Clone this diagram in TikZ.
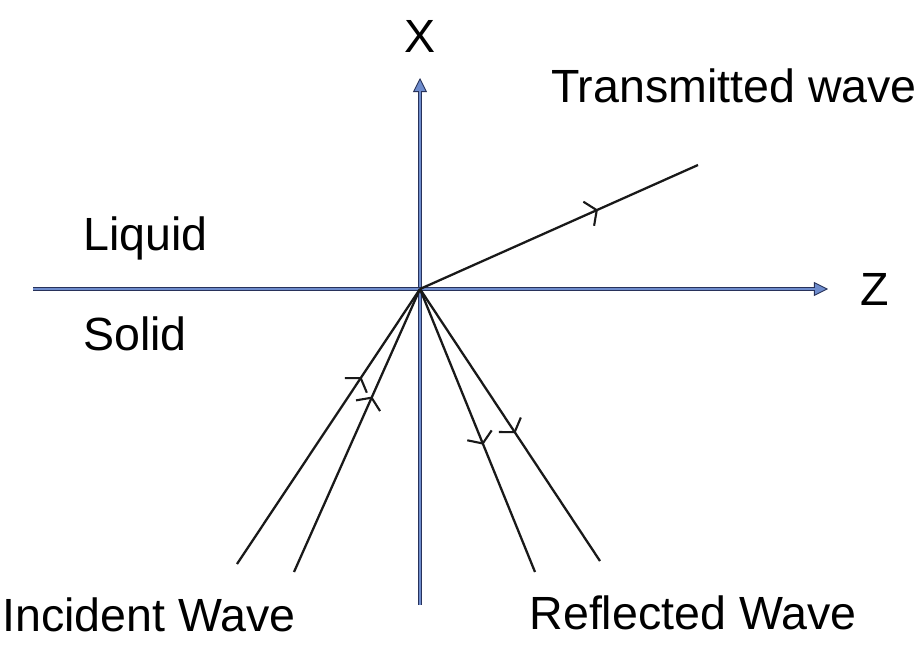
\documentclass[tikz,border=0pt]{standalone}
\usepackage{fontspec}
\setmainfont{Liberation Sans}
\usepackage{tikz}
\usetikzlibrary{arrows.meta,decorations.markings,positioning,calc}
\definecolor{axisblue}{RGB}{110,140,205}
\definecolor{axisdark}{RGB}{40,50,90}

\begin{document}
\begin{tikzpicture}[x=0.02cm, y=-0.02cm,
    lbl/.style={font=\fontsize{26.5}{31}\selectfont, inner sep=0pt},
    axisline/.style={draw=axisdark, line width=2pt, -{Triangle[length=8pt, width=8pt, line width=0.5pt, fill=axisblue]}},
    axiscore/.style={draw=axisblue, line width=1pt},
    ray/.style={draw=black!90, line width=1.3pt, decoration={markings,
        mark=at position #1 with {\arrow{Straight Barb[length=5pt, width=15pt, line width=1.2pt]}}},
        postaction={decorate}}
]
    \useasboundingbox (0,0) rectangle (923,645);

    % origin and end points
    \coordinate (O) at (420,289);
    \coordinate (xbot) at (420,605);
    \coordinate (xtop) at (420,78);
    \coordinate (zleft) at (33,289);
    \coordinate (zright) at (828,289);
    \coordinate (inc1) at (237,564);
    \coordinate (inc2) at (294,572);
    \coordinate (ref1) at (535,572);
    \coordinate (ref2) at (600,561);
    \coordinate (trans) at (698,165);

    % axes
    \draw[axisline] (xbot) -- (xtop);
    \draw[axiscore] (xbot) -- ($(xtop)+(0,10)$);
    \draw[axisline] (zleft) -- (zright);
    \draw[axiscore] (zleft) -- ($(zright)+(-10,0)$);

    % waves
    \draw[ray=0.68] (inc1) -- (O);
    \draw[ray=0.62] (inc2) -- (O);
    \draw[ray=0.55] (O) -- (ref1);
    \draw[ray=0.53] (O) -- (ref2);
    \draw[ray=0.64] (O) -- (trans);

    % labels
    \node[lbl] (xlabel) at (420,36) {X};
    \node[lbl] (zlabel) at (875,289) {Z};
    \node[lbl] (translabel) at (734,86) {Transmitted wave};
    \node[lbl, anchor=west] (liquid) at (83,238) {Liquid};
    \node[lbl, anchor=west] (solid) at (83,334) {Solid};
    \node[lbl, anchor=west] (inclabel) at (2,615) {Incident Wave};
    \node[lbl] (reflabel) at (693,613) {Reflected Wave};
\end{tikzpicture}
\end{document}
